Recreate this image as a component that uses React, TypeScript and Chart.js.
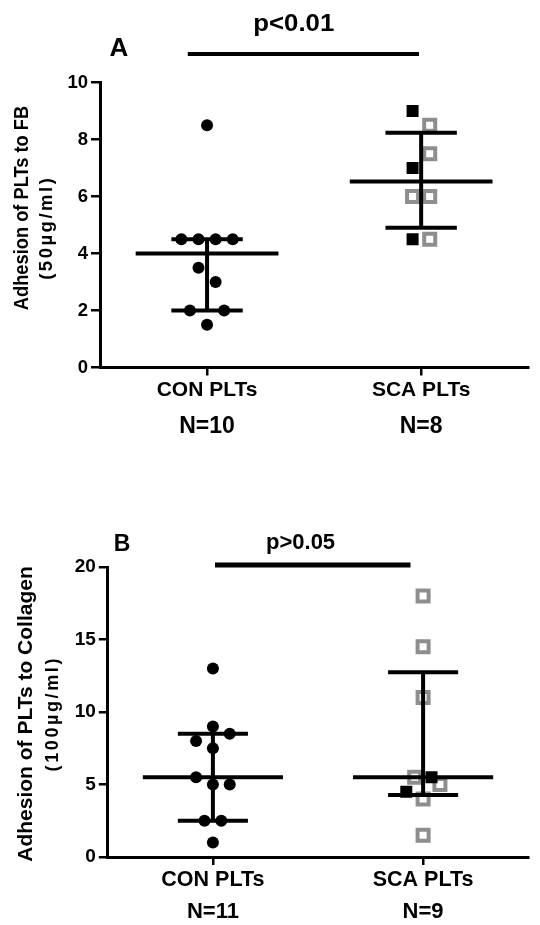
import React, { useEffect, useRef } from "react";
import { Chart, registerables } from "chart.js";

Chart.register(...registerables);

// ---------------- Panel A data (adhesion to FB) ----------------
const categoriesA = ["CON PLTs", "SCA PLTs"];
const countsA = ["N=10", "N=8"];
const conA = [8.5, 4.5, 4.5, 4.5, 4.5, 3.5, 3.0, 2.0, 2.0, 1.5];
const conASlots = [0, -1.5, -0.5, 0.5, 1.5, -0.5, 0.5, -1, 1, 0];
const scaAFilled = [9.0, 7.0, 4.5];
const scaAFilledSlots = [-0.5, -0.5, -0.5];
const scaAOpen = [8.5, 7.5, 6.0, 6.0, 4.5];
const scaAOpenSlots = [0.5, 0.5, -0.5, 0.5, 0.5];
const centerA = [4.0, 6.53];
const lowerA = [2.0, 4.9];
const upperA = [4.5, 8.24];
const yTicksA = [0, 2, 4, 6, 8, 10];
const sigA = { from: 0.91, to: 1.99, y: 11.0, label: "p<0.01" };
const panelA = "A";
const yTitleA = ["Adhesion of PLTs to FB", "(50µg/ml)"];

// ---------------- Panel B data (adhesion to collagen) ----------------
const categoriesB = ["CON PLTs", "SCA PLTs"];
const countsB = ["N=11", "N=9"];
const conB = [13, 9, 8.5, 8, 7.5, 5.5, 5, 5, 2.5, 2.5, 1];
const conBSlots = [0, 0, 1, -1, 0, -1, 0, 1, -0.5, 0.5, 0];
const scaBFilled = [5.5, 4.5];
const scaBFilledSlots = [0.5, -1];
const scaBOpen = [18, 14.5, 11, 5.5, 5.0, 4.0, 1.5];
const scaBOpenSlots = [0, 0, 0, -0.5, 1, 0, 0];
const centerB = [5.5, 5.5];
const lowerB = [2.5, 4.28];
const upperB = [8.5, 12.75];
const yTicksB = [0, 5, 10, 15, 20];
const sigB = { from: 1.01, to: 1.94, y: 20.14, label: "p>0.05" };
const panelB = "B";
const yTitleB = ["Adhesion of PLTs to Collagen", "(100µg/ml)"];

// ---------------- styling / layout ----------------
const FONT = '"Liberation Sans", Arial, Helvetica, sans-serif';
const GRAY = "#8e8e8e";
const SLOT = 0.08;
const MEAN_HALF = 1 / 3;
const CAP_HALF = 1 / 6;

type TextBox = { x: number; y: number; size: number; stretch?: number; spacing?: number; bold?: boolean };

type Layout = {
  height: number;
  area: { left: number; right: number; top: number; bottom: number };
  yMax: number;
  tickFont: number;
  catFont: number;
  catPad: number;
  nFont: number;
  nY: number;
  letter: TextBox;
  pText: TextBox;
  sigWidth: number;
  title1: TextBox;
  title2: TextBox;
};

const layoutA: Layout = {
  height: 460,
  area: { left: 100, right: 528.6, top: 82.5, bottom: 367.5 },
  yMax: 10,
  tickFont: 18.5,
  catFont: 21,
  catPad: 2,
  nFont: 23,
  nY: 426.7,
  letter: { x: 119, y: 56, size: 26 },
  pText: { x: 1.405, y: 31, size: 23, stretch: 1.12 },
  sigWidth: 4,
  title1: { x: 27.5, y: 208, size: 18.3, stretch: 1.12, bold: true },
  title2: { x: 51.5, y: 229, size: 18.5, spacing: 2.5, bold: true },
};

const layoutB: Layout = {
  height: 465,
  area: { left: 107.8, right: 540, top: 107, bottom: 397 },
  yMax: 20,
  tickFont: 19,
  catFont: 21.5,
  catPad: 2,
  nFont: 22,
  nY: 452,
  letter: { x: 122, y: 90.7, size: 23 },
  pText: { x: 1.417, y: 89.3, size: 22 },
  sigWidth: 5,
  title1: { x: 31.5, y: 254, size: 21, bold: true },
  title2: { x: 58, y: 255, size: 18, spacing: 2.6, bold: true },
};

type Panel = {
  categories: string[];
  counts: string[];
  con: number[];
  conSlots: number[];
  filled: number[];
  filledSlots: number[];
  open: number[];
  openSlots: number[];
  center: number[];
  lower: number[];
  upper: number[];
  yTicks: number[];
  sig: { from: number; to: number; y: number; label: string };
  letter: string;
  yTitle: string[];
  layout: Layout;
};

const panels: Panel[] = [
  {
    categories: categoriesA, counts: countsA, con: conA, conSlots: conASlots,
    filled: scaAFilled, filledSlots: scaAFilledSlots, open: scaAOpen, openSlots: scaAOpenSlots,
    center: centerA, lower: lowerA, upper: upperA, yTicks: yTicksA, sig: sigA,
    letter: panelA, yTitle: yTitleA, layout: layoutA,
  },
  {
    categories: categoriesB, counts: countsB, con: conB, conSlots: conBSlots,
    filled: scaBFilled, filledSlots: scaBFilledSlots, open: scaBOpen, openSlots: scaBOpenSlots,
    center: centerB, lower: lowerB, upper: upperB, yTicks: yTicksB, sig: sigB,
    letter: panelB, yTitle: yTitleB, layout: layoutB,
  },
];

function seg(points: { x: number; y: number }[], width = 4, clip: any = undefined) {
  const d: any = {
    data: points,
    showLine: true,
    borderColor: "#000",
    backgroundColor: "#000",
    borderWidth: width,
    borderCapStyle: "butt",
    pointRadius: 0,
    pointHoverRadius: 0,
  };
  if (clip !== undefined) d.clip = clip;
  return d;
}

function buildDatasets(p: Panel) {
  const ds: any[] = [];
  // summary lines (first datasets are drawn last, i.e. on top)
  p.center.forEach((m, i) => {
    const cx = i + 1;
    ds.push(seg([{ x: cx - MEAN_HALF, y: m }, { x: cx + MEAN_HALF, y: m }]));
    ds.push(seg([{ x: cx, y: p.lower[i] }, { x: cx, y: p.upper[i] }]));
    ds.push(seg([{ x: cx - CAP_HALF, y: p.upper[i] }, { x: cx + CAP_HALF, y: p.upper[i] }]));
    ds.push(seg([{ x: cx - CAP_HALF, y: p.lower[i] }, { x: cx + CAP_HALF, y: p.lower[i] }]));
  });
  ds.push(seg([{ x: p.sig.from, y: p.sig.y }, { x: p.sig.to, y: p.sig.y }], p.layout.sigWidth, false));
  ds.push({
    data: p.filled.map((v, i) => ({ x: 2 + p.filledSlots[i] * SLOT, y: v })),
    pointStyle: "rect",
    pointRadius: 8.5,
    backgroundColor: "#000",
    borderWidth: 0,
    showLine: false,
  });
  ds.push({
    data: p.open.map((v, i) => ({ x: 2 + p.openSlots[i] * SLOT, y: v })),
    pointStyle: "rect",
    pointRadius: 7.8,
    backgroundColor: "#fff",
    borderColor: GRAY,
    borderWidth: 4,
    showLine: false,
  });
  ds.push({
    data: p.con.map((v, i) => ({ x: 1 + p.conSlots[i] * SLOT, y: v })),
    pointStyle: "circle",
    pointRadius: 6,
    backgroundColor: "#000",
    borderWidth: 0,
    showLine: false,
  });
  return ds;
}

function drawText(ctx: CanvasRenderingContext2D, text: string, x: number, y: number, box: TextBox, rotated: boolean) {
  ctx.save();
  ctx.translate(x, y);
  if (rotated) ctx.rotate(-Math.PI / 2);
  const k = box.stretch ?? 1;
  if (rotated) ctx.scale(1, k);
  else ctx.scale(k, 1);
  ctx.font = `${box.bold === false ? "" : "bold "}${box.size}px ${FONT}`;
  const sp = box.spacing ?? 0;
  if (sp) (ctx as any).letterSpacing = `${sp}px`;
  ctx.fillText(text, sp / 2, 0);
  ctx.restore();
}

function textPlugin(p: Panel) {
  const L = p.layout;
  return {
    id: "panelText",
    afterDraw(chart: any) {
      const ctx: CanvasRenderingContext2D = chart.ctx;
      const xs = chart.scales.x;
      ctx.save();
      ctx.fillStyle = "#000";
      ctx.textAlign = "center";
      ctx.textBaseline = "alphabetic";
      drawText(ctx, p.letter, L.letter.x, L.letter.y, L.letter, false);
      drawText(ctx, p.sig.label, xs.getPixelForValue(L.pText.x), L.pText.y, L.pText, false);
      ctx.textBaseline = "middle";
      p.counts.forEach((n, i) => {
        drawText(ctx, n, xs.getPixelForValue(i + 1), L.nY, { x: 0, y: 0, size: L.nFont }, false);
      });
      ctx.textBaseline = "alphabetic";
      drawText(ctx, p.yTitle[0], L.title1.x, L.title1.y, L.title1, true);
      drawText(ctx, p.yTitle[1], L.title2.x, L.title2.y, L.title2, true);
      ctx.restore();
    },
  };
}

function makeConfig(p: Panel): any {
  const L = p.layout;
  return {
    type: "scatter",
    data: { datasets: buildDatasets(p) },
    options: {
      animation: false,
      responsive: false,
      events: [],
      layout: {
        padding: { top: L.area.top, right: 540 - L.area.right, left: 0, bottom: 0 },
      },
      plugins: { legend: { display: false }, tooltip: { enabled: false } },
      scales: {
        x: {
          type: "linear",
          min: 0.5,
          max: 2.5,
          afterFit: (s: any) => { s.height = L.height - L.area.bottom; },
          afterBuildTicks: (s: any) => { s.ticks = p.categories.map((_, i) => ({ value: i + 1 })); },
          ticks: {
            color: "#000",
            font: { family: FONT, size: L.catFont, weight: "bold" },
            padding: L.catPad,
            maxRotation: 0,
            autoSkip: false,
            callback: (v: number) => p.categories[Math.round(v) - 1] ?? "",
          },
          grid: { drawOnChartArea: false, drawTicks: true, tickLength: 8, color: "#000", lineWidth: 2.5 },
          border: { display: true, color: "#000", width: 3 },
        },
        y: {
          type: "linear",
          min: 0,
          max: L.yMax,
          afterFit: (s: any) => { s.width = L.area.left; },
          afterBuildTicks: (s: any) => { s.ticks = p.yTicks.map((v) => ({ value: v })); },
          ticks: {
            color: "#000",
            font: { family: FONT, size: L.tickFont, weight: "bold" },
            padding: 3,
            autoSkip: false,
          },
          grid: { drawOnChartArea: false, drawTicks: true, tickLength: 9, color: "#000", lineWidth: 2.5 },
          border: { display: true, color: "#000", width: 3 },
        },
      },
    },
    plugins: [textPlugin(p)],
  };
}

function PanelChart({ panel }: { panel: Panel }) {
  const ref = useRef<HTMLCanvasElement | null>(null);
  useEffect(() => {
    if (!ref.current) return;
    const chart = new Chart(ref.current, makeConfig(panel));
    return () => chart.destroy();
  }, [panel]);
  return (
    <canvas
      ref={ref}
      width={540}
      height={panel.layout.height}
      style={{ display: "block", width: 540, height: panel.layout.height }}
    />
  );
}

export default function App() {
  return (
    <div style={{ position: "absolute", left: 0, top: 0, width: 540, height: 925, background: "#fff" }}>
      {panels.map((p, i) => (
        <PanelChart key={i} panel={p} />
      ))}
    </div>
  );
}
